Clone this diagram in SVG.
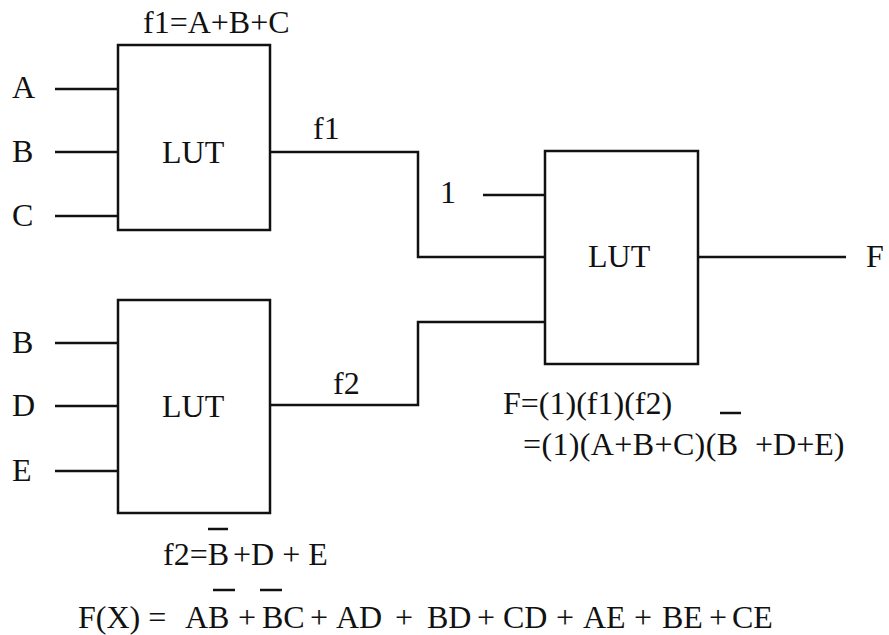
<svg xmlns="http://www.w3.org/2000/svg" width="889" height="635" viewBox="0 0 889 635">
<style>
.box{fill:#fff;stroke:#111;stroke-width:2.5}
.w{fill:none;stroke:#111;stroke-width:2.5}
.t{font-family:"Liberation Serif","Times New Roman",serif;font-size:32px;fill:#111}
.bar{stroke:#111;stroke-width:2.5}
</style>
<rect width="889" height="635" fill="#fff"/>
<g id="connectors">
<line class="w" x1="55" y1="89" x2="118" y2="89"/>
<line class="w" x1="55" y1="152" x2="118" y2="152"/>
<line class="w" x1="55" y1="216" x2="118" y2="216"/>
<line class="w" x1="55" y1="343" x2="118" y2="343"/>
<line class="w" x1="55" y1="406" x2="118" y2="406"/>
<line class="w" x1="55" y1="471" x2="118" y2="471"/>
<polyline class="w" points="270,152 418,152 418,257 545,257"/>
<polyline class="w" points="270,405 418,405 418,322 545,322"/>
<line class="w" x1="483" y1="195" x2="545" y2="195"/>
<line class="w" x1="698" y1="257" x2="846" y2="257"/>
</g>
<g id="lut1">
<rect class="box" x="118" y="45" width="152" height="185"/>
<text class="t" x="162" y="163">LUT</text>
</g>
<g id="lut2">
<rect class="box" x="118" y="300" width="152" height="213"/>
<text class="t" x="162" y="417">LUT</text>
</g>
<g id="lut3">
<rect class="box" x="545" y="151" width="153" height="213"/>
<text class="t" x="588" y="267">LUT</text>
</g>
<g id="labels">
<text class="t" x="12" y="98">A</text>
<text class="t" x="12" y="162">B</text>
<text class="t" x="12" y="226">C</text>
<text class="t" x="12" y="353">B</text>
<text class="t" x="12" y="416">D</text>
<text class="t" x="12" y="481">E</text>
<text class="t" x="143" y="33">f1=A+B+C</text>
<text class="t" x="313" y="139">f1</text>
<text class="t" x="333" y="394">f2</text>
<text class="t" x="440" y="203">1</text>
<text class="t" x="866" y="267">F</text>
<text class="t" x="503" y="414">F=(1)(f1)(f2)</text>
<text class="t" x="523" y="455" textLength="215" lengthAdjust="spacing">=(1)(A+B+C)(B</text>
<text class="t" x="755" y="455">+D+E)</text>
<line class="bar" x1="720" y1="413" x2="741" y2="413"/>
<text class="t" y="565"><tspan x="163">f2=B</tspan><tspan x="233">+D + E</tspan></text>
<line class="bar" x1="208" y1="529" x2="228" y2="529"/>
<text class="t" y="628"><tspan x="78">F(X) =</tspan><tspan x="185">AB</tspan><tspan x="238">+</tspan><tspan x="262">BC</tspan><tspan x="310">+</tspan><tspan x="336">AD</tspan><tspan x="395">+</tspan><tspan x="427">BD</tspan><tspan x="477">+</tspan><tspan x="503">CD</tspan><tspan x="556">+</tspan><tspan x="583">AE</tspan><tspan x="634">+</tspan><tspan x="662">BE</tspan><tspan x="709">+</tspan><tspan x="732">CE</tspan></text>
<line class="bar" x1="213" y1="590" x2="235" y2="590"/>
<line class="bar" x1="260" y1="590" x2="282" y2="590"/>
</g>
</svg>
